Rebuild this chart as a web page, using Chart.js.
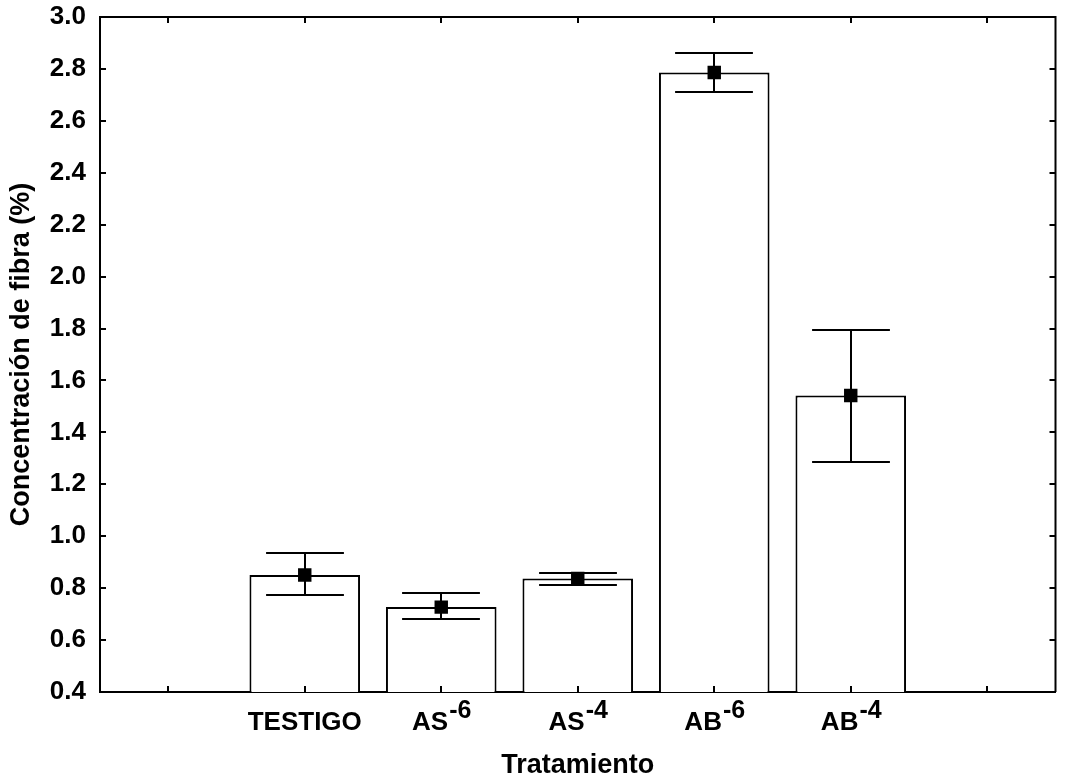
<!DOCTYPE html>
<html>
<head>
<meta charset="utf-8">
<script src="https://cdn.jsdelivr.net/npm/chart.js@4.4.1/dist/chart.umd.min.js"></script>
<style>
  html, body { margin: 0; padding: 0; background: #fff; }
  #wrap { width: 1065px; height: 782px; }
</style>
</head>
<body>
<div id="wrap"><canvas id="chartFibra"></canvas></div>
<script>
// categorias (los extremos vacios son parte del eje original)
const categories = ['', 'TESTIGO', 'AS', 'AS', 'AB', 'AB', ''];
const exponents  = ['', '', '-6', '-4', '-6', '-4', ''];
// medias y limites del error
const means    = [null, 0.851, 0.727, 0.837, 2.786, 1.542, null];
const errUpper = [null, 0.935, 0.781, 0.858, 2.860, 1.796, null];
const errLower = [null, 0.772, 0.680, 0.812, 2.713, 1.285, null];
const yMin = 0.4, yMax = 3.0, yStep = 0.2;

const FONT = "'Liberation Sans', Arial, sans-serif";

// sin margen extra por las etiquetas: el area se fija con layout.padding
const noPad = s => { s.paddingTop = 0; s.paddingBottom = 0; s.paddingLeft = 0; s.paddingRight = 0; };

const framePlugin = {
    id: 'framePlugin',
    afterDatasetsDraw(chart) {
        const { ctx, chartArea: a, scales: { x, y } } = chart;
        ctx.save();
        ctx.strokeStyle = '#000';
        ctx.lineWidth = 2;

        // barras de error
        const capHalf = (x.getPixelForValue(1) - x.getPixelForValue(0)) * 0.285;
        means.forEach((m, i) => {
            if (m === null) return;
            const px = Math.round(x.getPixelForValue(i));
            const yt = Math.round(y.getPixelForValue(errUpper[i]));
            const yb = Math.round(y.getPixelForValue(errLower[i]));
            ctx.beginPath();
            ctx.moveTo(px, yt); ctx.lineTo(px, yb);
            ctx.moveTo(px - capHalf, yt); ctx.lineTo(px + capHalf, yt);
            ctx.moveTo(px - capHalf, yb); ctx.lineTo(px + capHalf, yb);
            ctx.stroke();
        });

        // marco superior y derecho
        ctx.beginPath();
        ctx.moveTo(a.left, a.top); ctx.lineTo(a.right, a.top); ctx.lineTo(a.right, a.bottom);
        ctx.stroke();

        // marcas interiores
        const tl = 6;
        ctx.beginPath();
        categories.forEach((c, i) => {
            const px = Math.round(x.getPixelForValue(i));
            ctx.moveTo(px, a.bottom); ctx.lineTo(px, a.bottom - tl);
            ctx.moveTo(px, a.top); ctx.lineTo(px, a.top + tl);
        });
        y.ticks.forEach(t => {
            if (t.value <= yMin || t.value >= yMax) return;
            const py = Math.round(y.getPixelForValue(t.value));
            ctx.moveTo(a.left, py); ctx.lineTo(a.left + tl, py);
            ctx.moveTo(a.right, py); ctx.lineTo(a.right - tl, py);
        });
        ctx.stroke();

        // etiquetas del eje x con superindice
        ctx.fillStyle = '#000';
        ctx.textBaseline = 'alphabetic';
        ctx.textAlign = 'left';
        const baseFont = 'bold 26px ' + FONT;
        const supFont = 'bold 25px ' + FONT;
        categories.forEach((c, i) => {
            if (!c) return;
            ctx.font = baseFont;
            const wb = ctx.measureText(c).width;
            ctx.font = supFont;
            const ws = exponents[i] ? ctx.measureText(exponents[i]).width : 0;
            const x0 = x.getPixelForValue(i) - (wb + ws) / 2;
            const yb = a.bottom + 38;
            ctx.font = baseFont;
            ctx.fillText(c, x0, yb);
            if (exponents[i]) {
                ctx.font = supFont;
                ctx.fillText(exponents[i], x0 + wb + 1, yb - 12);
            }
        });
        ctx.restore();
    }
};

new Chart(document.getElementById('chartFibra'), {
    data: {
        labels: categories,
        datasets: [
            {
                type: 'line',
                data: means,
                showLine: false,
                pointStyle: 'rect',
                pointRadius: 9.5,
                pointHoverRadius: 9.5,
                pointBorderWidth: 0,
                pointBackgroundColor: '#000',
                borderColor: '#000',
                order: 0
            },
            {
                type: 'bar',
                data: means,
                backgroundColor: '#fff',
                borderColor: '#000',
                borderWidth: 2,
                barPercentage: 0.81,
                categoryPercentage: 1,
                order: 1
            }
        ]
    },
    options: {
        responsive: true,
        maintainAspectRatio: false,
        animation: false,
        layout: { padding: { top: 17, right: 2, left: 0, bottom: 0 } },
        plugins: { legend: { display: false }, tooltip: { enabled: false } },
        scales: {
            x: {
                offset: true,
                grid: { display: false, drawTicks: false },
                border: { color: '#000', width: 2 },
                ticks: { display: false },
                title: {
                    display: true, text: 'Tratamiento', color: '#000',
                    font: { family: FONT, size: 27, weight: 'bold' },
                    padding: { top: 0, bottom: 0 }
                },
                afterFit: s => { s.height = 90; noPad(s); }
            },
            y: {
                min: yMin, max: yMax,
                grid: { display: false, drawTicks: false },
                border: { color: '#000', width: 2 },
                ticks: {
                    stepSize: yStep, color: '#000', padding: 14,
                    font: { family: FONT, size: 26, weight: 'bold' },
                    callback: v => v.toFixed(1)
                },
                title: {
                    display: true, text: 'Concentración de fibra (%)', color: '#000',
                    font: { family: FONT, size: 27, weight: 'bold' },
                    padding: { top: 5, bottom: 0 }
                },
                afterFit: s => { s.width = 100; noPad(s); }
            }
        }
    },
    plugins: [framePlugin]
});
</script>
</body>
</html>
